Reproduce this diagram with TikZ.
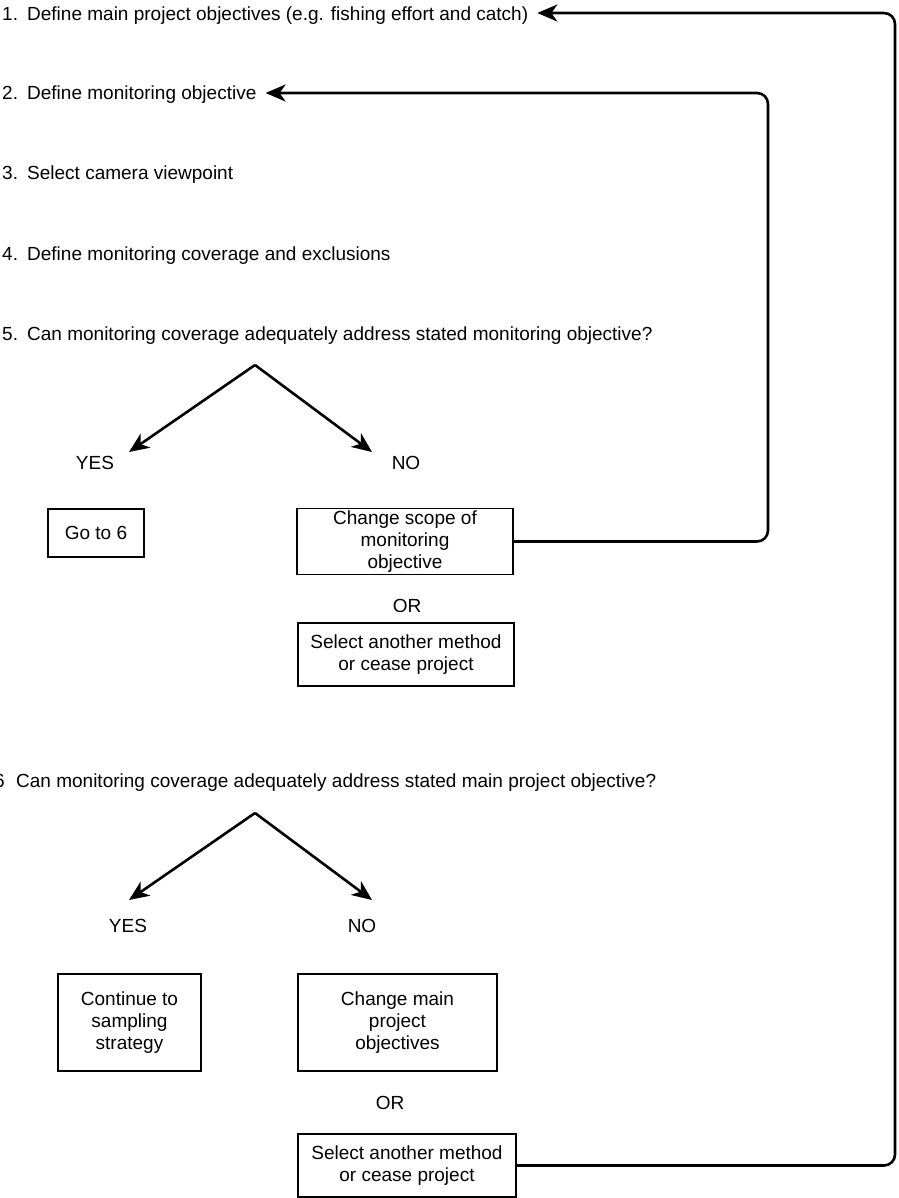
\documentclass[tikz,border=0pt]{standalone}
\usepackage{fontspec}
\setmainfont{Liberation Sans}
\usetikzlibrary{arrows.meta}

\begin{document}
\begin{tikzpicture}[x=1pt,y=-1pt,
  font=\fontsize{19}{22}\selectfont,
  every node/.style={inner sep=0pt},
  stepline/.style={anchor=west, text height=14pt, text depth=0pt},
  label/.style={text height=14pt, text depth=0pt},
  box/.style={draw, line width=1.1pt, align=center, inner sep=2pt},
  tip/.style={-{Stealth[length=20pt,width=17pt,inset=6pt]}},
  branch/.style={line width=2.6pt, tip},
  conn/.style={line width=2.6pt, rounded corners=11pt, tip}
]
\useasboundingbox (0,0) rectangle (898,1198);

% numbered steps
\node[stepline] (t1) at (2,14)  {\makebox[25pt][l]{1.}Define main project objectives (e.g. fishing effort and catch)};
\node[stepline] (t2) at (2,93)  {\makebox[25pt][l]{2.}Define monitoring objective};
\node[stepline] (t3) at (2,173) {\makebox[25pt][l]{3.}Select camera viewpoint};
\node[stepline] (t4) at (2,253) {\makebox[25pt][l]{4.}Define monitoring coverage and exclusions};
\node[stepline] (t5) at (2,333) {\makebox[25pt][l]{5.}Can monitoring coverage adequately address stated monitoring objective?};

% first decision
\coordinate (apexA) at (255,365);
\node[label] (yesA) at (95,462) {YES};
\node[label] (noA)  at (406,462) {NO};
\coordinate (yesAtip) at (129,452);
\coordinate (noAtip) at (372,452);
\draw[branch] (apexA) -- (yesAtip);
\draw[branch] (apexA) -- (noAtip);

\node[box, minimum width=96pt, minimum height=48pt] (goto) at (96,533) {Go to 6};
\node[box, minimum width=216pt, minimum height=63pt] (scope) at (405,541.5)
  {Change scope of\\monitoring\\objective};
\node[label] (orA) at (407,605) {OR};
\node[box, minimum width=216pt, minimum height=63pt] (ceaseA) at (406,654.5)
  {Select another method\\or cease project};

% step six
\node[stepline] (t6) at (-6,780) {\makebox[22pt][l]{6}Can monitoring coverage adequately address stated main project objective?};

% second decision
\coordinate (apexB) at (255,813);
\node[label] (yesB) at (128,925) {YES};
\node[label] (noB)  at (362,925) {NO};
\coordinate (yesBtip) at (129,900);
\coordinate (noBtip) at (372,900);
\draw[branch] (apexB) -- (yesBtip);
\draw[branch] (apexB) -- (noBtip);

\node[box, minimum width=143pt, minimum height=97pt] (cont) at (129.5,1022.5)
  {Continue to\\sampling\\strategy};
\node[box, minimum width=199pt, minimum height=97pt] (chmain) at (397.5,1022.5)
  {Change main\\project\\objectives};
\node[label] (orB) at (390,1102) {OR};
\node[box, minimum width=218pt, minimum height=63pt] (ceaseB) at (407,1165.5)
  {Select another method\\or cease project};

% feedback loops
\coordinate (railA) at (768,93);
\coordinate (railB) at (895,13);
\draw[conn] (scope.east) -| (railA) -- ([xshift=9pt]t2.east);
\draw[conn] (ceaseB.east) -| (railB) -- ([xshift=9pt]t1.east |- railB);
\end{tikzpicture}
\end{document}
